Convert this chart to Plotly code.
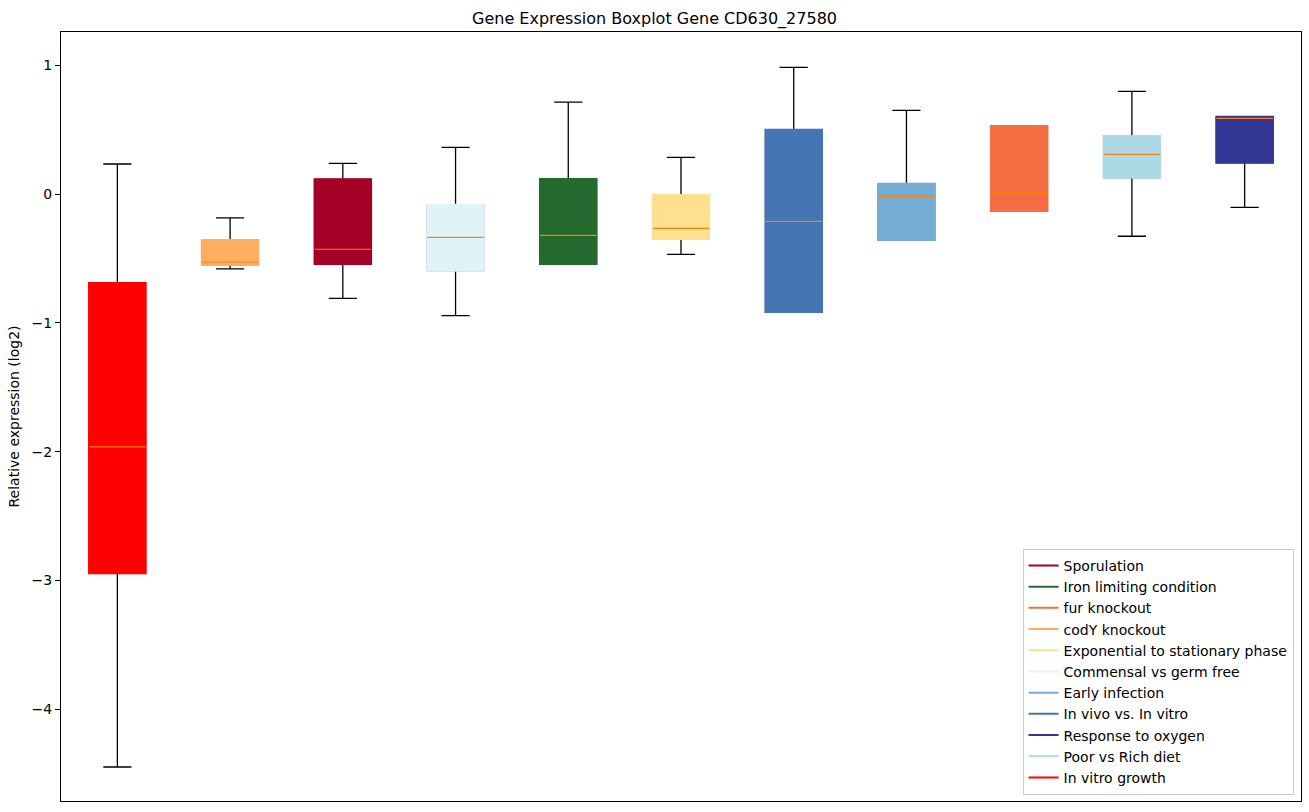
import plotly.graph_objects as go

# Box order left to right
categories = ["In vitro growth", "codY knockout", "Sporulation", "Commensal vs germ free",
              "Iron limiting condition", "Exponential to stationary phase", "In vivo vs. In vitro",
              "Early infection", "fur knockout", "Poor vs Rich diet", "Response to oxygen"]
colors = ["#ff0000", "#fdae61", "#a50026", "#e0f3f8", "#246a2e", "#fee090", "#4575b4",
          "#74add1", "#f46d43", "#add8e6", "#313695"]
lower_whisker = [-4.449, -0.582, -0.810, -0.945, -0.543, -0.468, -0.916, -0.357, -0.132, -0.328, -0.103]
q1 = [-2.943, -0.551, -0.543, -0.595, -0.543, -0.349, -0.916, -0.357, -0.132, 0.127, 0.243]
median = [-1.964, -0.528, -0.429, -0.336, -0.321, -0.267, -0.212, -0.018, 0.013, 0.308, 0.588]
q3 = [-0.691, -0.357, 0.114, -0.085, 0.116, -0.008, 0.499, 0.078, 0.528, 0.450, 0.600]
upper_whisker = [0.233, -0.186, 0.238, 0.362, 0.714, 0.285, 0.983, 0.650, 0.528, 0.797, 0.600]
legend_order = ["Sporulation", "Iron limiting condition", "fur knockout", "codY knockout",
                "Exponential to stationary phase", "Commensal vs germ free", "Early infection",
                "In vivo vs. In vitro", "Response to oxygen", "Poor vs Rich diet", "In vitro growth"]
y_ticks = [-4, -3, -2, -1, 0, 1]

positions = list(range(1, len(categories) + 1))
box_width = 0.5

fig = go.Figure()
# whiskers + caps (black)
fig.add_trace(go.Box(
    x=positions, q1=q1, median=median, q3=q3,
    lowerfence=lower_whisker, upperfence=upper_whisker,
    width=box_width, whiskerwidth=0.5,
    line=dict(color="black", width=1.3), fillcolor="rgba(0,0,0,0)",
    showlegend=False, hoverinfo="skip", boxpoints=False))
# filled boxes
for i, c in enumerate(categories):
    fig.add_trace(go.Box(
        x=[positions[i]], q1=[q1[i]], median=[median[i]], q3=[q3[i]],
        lowerfence=[q1[i]], upperfence=[q3[i]],
        width=box_width, whiskerwidth=0,
        line=dict(color=colors[i], width=2.2), fillcolor=colors[i],
        showlegend=False, hoverinfo="skip", boxpoints=False))
    # median line
    fig.add_trace(go.Scatter(
        x=[positions[i] - box_width / 2, positions[i] + box_width / 2],
        y=[median[i], median[i]], mode="lines",
        line=dict(color="#ff7f0e", width=1.2), showlegend=False, hoverinfo="skip"))

# legend entries
for name in legend_order:
    c = colors[categories.index(name)]
    fig.add_trace(go.Scatter(x=[None], y=[None], mode="lines", name=name,
                             line=dict(color=c, width=2)))

fig.update_layout(
    width=1309, height=812,
    margin=dict(l=61, r=8, t=32, b=11, autoexpand=False),
    plot_bgcolor="white", paper_bgcolor="white",
    font=dict(family="DejaVu Sans", size=14, color="black"),
    title=dict(text="Gene Expression Boxplot Gene CD630_27580", x=0.5, xanchor="center",
               y=1 - 18 / 812, yanchor="middle", font=dict(size=16)),
    xaxis=dict(range=[0.5, 11.5], showticklabels=False, ticks="", showgrid=False,
               zeroline=False, showline=True, linecolor="black", linewidth=1, mirror=True),
    yaxis=dict(range=[-4.713, 1.258], tickvals=y_ticks,
               ticktext=["\u2212" + str(-v) if v < 0 else str(v) for v in y_ticks],
               ticks="outside", ticklen=5, tickcolor="black", showgrid=False, zeroline=False,
               showline=True, linecolor="black", linewidth=1, mirror=True, automargin=False,
               tickfont=dict(size=14),
               title=dict(text="Relative expression (log2)", font=dict(size=14), standoff=8)),
    legend=dict(x=0.994, y=0.008, xanchor="right", yanchor="bottom",
                bordercolor="#cccccc", borderwidth=1, bgcolor="rgba(255,255,255,0.8)",
                font=dict(size=14), tracegroupgap=0),
)

fig.write_html("out.html", config={"displayModeBar": False},
               post_script="document.body.style.margin='0';document.body.style.overflow='hidden';")
